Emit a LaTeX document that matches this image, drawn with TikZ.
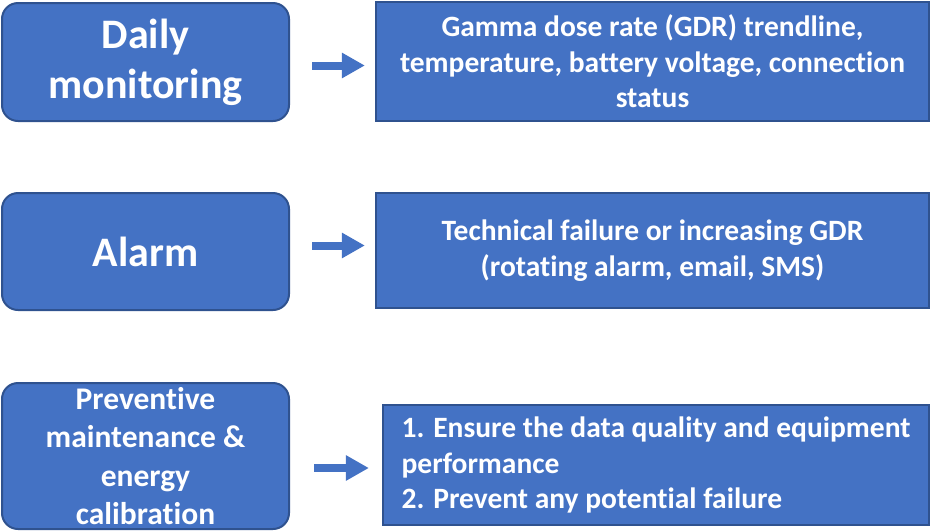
\documentclass[tikz,border=0pt]{standalone}
\usepackage{fontspec}
\setmainfont{Carlito}[Ligatures=NoCommon]
\usetikzlibrary{arrows.meta,positioning}
\definecolor{boxblue}{HTML}{4472C4}
\definecolor{edgeblue}{HTML}{2F528F}

\begin{document}
\begin{tikzpicture}[
  x=1pt, y=-1pt,
  box/.style={
    draw=edgeblue, fill=boxblue, text=white, line width=2pt,
    align=center, inner sep=0pt
  },
  stage/.style={box, rounded corners=16pt, minimum width=287pt,
                font=\bfseries\fontsize{42}{50}\selectfont},
  info/.style={box, line width=2.2pt,
               font=\bfseries\fontsize{29.5}{35.5}\selectfont},
  flow/.style={-{Triangle[length=23pt,width=24pt]}, line width=8pt, boxblue},
]
\useasboundingbox (0,0) rectangle (932,531);

% ---- stages (left column) -----------------------------------------------
\node[stage, minimum height=118pt] (daily) at (145.5, 62)
  {Daily\\ monitoring};
\node[stage, minimum height=117pt] (alarm) at (145.5, 251.5)
  {Alarm};
\node[stage, minimum height=146pt, font=\bfseries\fontsize{31.5}{38.5}\selectfont]
  (prevent) at (145.5, 456)
  {Preventive\\ maintenance \&\\ energy\\ calibration};

% ---- details (right column) ---------------------------------------------
\node[info, minimum width=553pt, minimum height=119pt] (dailyinfo) at (652.5, 61.5)
  {Gamma dose rate (GDR) trendline,\\
   temperature, battery voltage, connection\\ status};
\node[info, minimum width=553pt, minimum height=115pt] (alarminfo) at (652.5, 250.5)
  {Technical failure or increasing GDR\\ (rotating alarm, email, SMS)};
\node[info, minimum width=546pt, minimum height=120pt, align=left]
  (preventinfo) at (656, 465)
  {1. Ensure the data quality and equipment\\ performance\\
   2. Prevent any potential failure};

% ---- arrows -------------------------------------------------------------
\draw[flow, shorten <=22pt, shorten >=10pt]
  ([yshift=-4pt]dailyinfo.west -| daily.east) -- ([yshift=-4pt]dailyinfo.west);
\draw[flow, shorten <=22pt, shorten >=10pt]
  ([yshift=5pt]alarminfo.west -| alarm.east) -- ([yshift=5pt]alarminfo.west);
\draw[flow, shorten <=24pt, shorten >=13pt]
  ([yshift=-3pt]preventinfo.west -| prevent.east) -- ([yshift=-3pt]preventinfo.west);

\end{tikzpicture}
\end{document}
